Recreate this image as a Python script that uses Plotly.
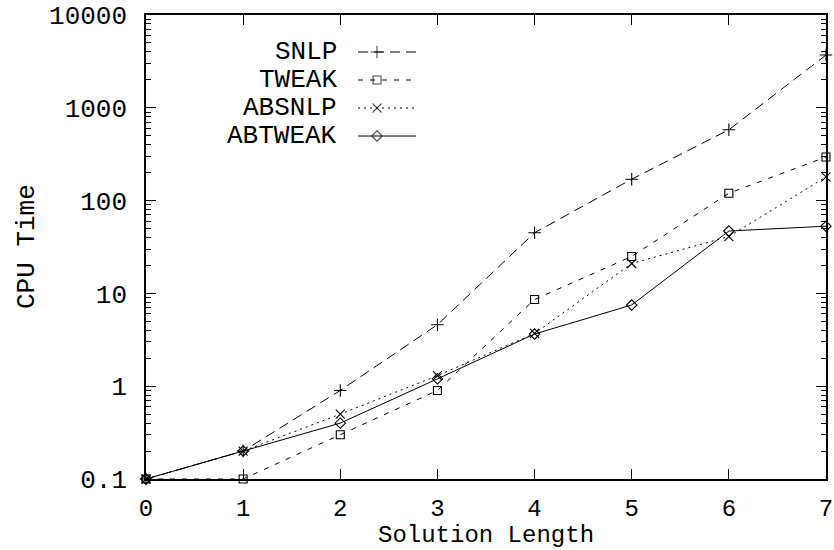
import plotly.graph_objects as go

# ---- data ----
solution_length = [0, 1, 2, 3, 4, 5, 6, 7]
snlp = [0.1, 0.2, 0.9, 4.6, 45, 170, 580, 3700]
tweak = [0.1, 0.1, 0.3, 0.9, 8.6, 25, 120, 295]
absnlp = [0.1, 0.2, 0.5, 1.3, 3.7, 21, 41, 180]
abtweak = [0.1, 0.2, 0.4, 1.2, 3.65, 7.5, 47, 53]

series_names = ["SNLP", "TWEAK", "ABSNLP", "ABTWEAK"]
series_values = [snlp, tweak, absnlp, abtweak]

x_ticks = [0, 1, 2, 3, 4, 5, 6, 7]
y_tick_vals = [0.1, 1, 10, 100, 1000, 10000]
y_tick_text = ["0.1", "1", "10", "100", "1000", "10000"]

x_title = "Solution Length"
y_title = "CPU Time"

# ---- styles ----
dashes = ["10px,6px", "5px,7px", "2px,4px", "solid"]
symbols = ["cross-thin", "square-open", "x-thin", "diamond-open"]
sizes = [9, 8, 9, 8]

FONT = "Liberation Mono, Courier New, monospace"
FS = 26
FSX = 24

fig = go.Figure()

for name, vals, dash, sym, sz in zip(series_names, series_values, dashes, symbols, sizes):
    fig.add_trace(go.Scatter(
        x=solution_length, y=vals, name=name, mode="lines+markers",
        line=dict(color="black", width=1.0, dash=dash),
        marker=dict(symbol=sym, size=sz, color="black",
                    line=dict(color="black", width=1.1)),
        showlegend=False, cliponaxis=False,
    ))

# ---- gnuplot-style key (text left of sample) ----
W, H = 834, 550
L, R, T, B = 146, 8, 15, 71
pw, ph = W - L - R, H - T - B

def px_x(p):
    return (p - L) / pw

def px_y(p):
    return (H - B - p) / ph

row_px = [52, 80, 108, 136]
for i, (name, dash, sym, sz) in enumerate(zip(series_names, dashes, symbols, sizes)):
    yy = px_y(row_px[i])
    fig.add_trace(go.Scatter(
        x=[px_x(358), px_x(377), px_x(416)], y=[yy, yy, yy],
        mode="lines+markers", xaxis="x2", yaxis="y2",
        line=dict(color="black", width=1.0, dash=dash),
        marker=dict(symbol=sym, size=[0, sz, 0], color="black",
                    line=dict(color="black", width=1.1)),
        showlegend=False, hoverinfo="skip",
    ))
    fig.add_annotation(
        x=px_x(339), y=yy, xref="paper", yref="paper",
        text=name, showarrow=False, xanchor="right", yanchor="middle",
        font=dict(family=FONT, size=FS, color="black"),
    )

# axis titles
fig.add_annotation(
    x=0.5, y=px_y(535), xref="paper", yref="paper", text=x_title,
    showarrow=False, xanchor="center", yanchor="middle",
    font=dict(family=FONT, size=FSX, color="black"),
)
fig.add_annotation(
    x=px_x(27), y=0.5, xref="paper", yref="paper", text=y_title,
    showarrow=False, xanchor="center", yanchor="middle", textangle=-90,
    font=dict(family=FONT, size=FS, color="black"),
)

axis_common = dict(
    showline=True, linecolor="black", linewidth=1.5, mirror="allticks",
    ticks="inside", tickcolor="black", tickwidth=1.2, showgrid=False,
    zeroline=False, ticklabeloverflow="allow",
)

fig.update_layout(
    width=W, height=H,
    margin=dict(l=L, r=R, t=T, b=B, autoexpand=False),
    paper_bgcolor="white", plot_bgcolor="white",
    font=dict(family=FONT, size=FS, color="black"),
    xaxis=dict(
        range=[0, 7], tickvals=x_ticks, ticklen=10, ticklabelstandoff=6,
        tickfont=dict(family=FONT, size=FSX, color="black"),
        **axis_common,
    ),
    yaxis=dict(
        type="log", range=[-1, 4], tickvals=y_tick_vals, ticktext=y_tick_text,
        ticklen=10, ticklabelstandoff=12,
        tickfont=dict(family=FONT, size=FS, color="black"),
        minor=dict(ticks="inside", ticklen=5, tickcolor="black", dtick="D1", showgrid=False),
        **axis_common,
    ),
    xaxis2=dict(range=[0, 1], overlaying="x", visible=False, fixedrange=True),
    yaxis2=dict(range=[0, 1], overlaying="y", visible=False, fixedrange=True),
    showlegend=False,
)

fig.write_html(
    "out.html",
    config={"displayModeBar": False},
    post_script="document.body.style.margin='0';document.body.style.padding='0';",
)
